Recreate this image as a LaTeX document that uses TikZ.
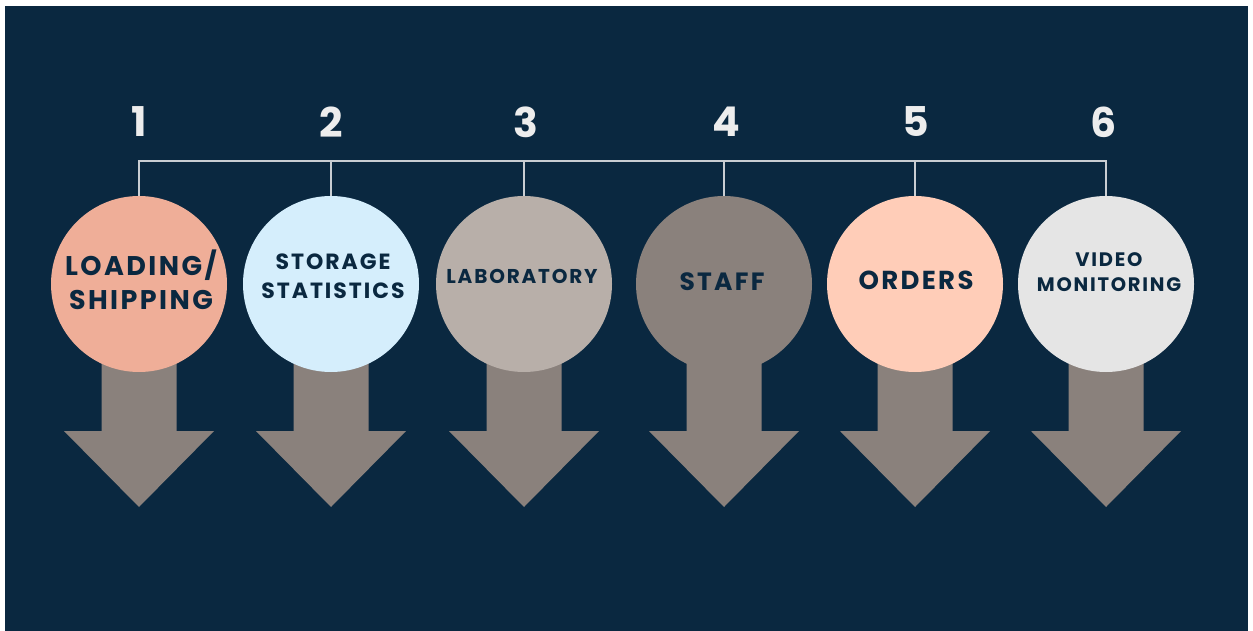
\documentclass[tikz,border=0pt]{standalone}
\usepackage{fontspec}
\newfontfamily\popfont{Poppins}[LetterSpace=9]
\newfontfamily\numfont{Poppins}
\definecolor{navy}{HTML}{0A2840}
\definecolor{arrowgrey}{HTML}{8A817C}
\definecolor{cA}{HTML}{EFAE98}
\definecolor{cB}{HTML}{D5EEFC}
\definecolor{cC}{HTML}{B8AFA9}
\definecolor{cD}{HTML}{8A817C}
\definecolor{cE}{HTML}{FFCDB8}
\definecolor{cF}{HTML}{E5E5E5}
\definecolor{numc}{HTML}{EDEDED}
\definecolor{busc}{HTML}{C9CED3}
\tikzset{
  circ/.style={circle, minimum size=176pt, inner sep=0pt, draw=none},
  lbl/.style={text=navy, align=center, font=\popfont\bfseries\fontsize{27}{34}\selectfont},
  num/.style={text=numc, font=\numfont\bfseries\fontsize{41}{41}\selectfont},
  bus/.style={draw=busc, line width=2.5pt},
  arr/.style={fill=arrowgrey}
}
\begin{document}
\begin{tikzpicture}[x=1pt, y=-1pt]
\fill[white] (0,0) rectangle (1253,631);
\fill[navy] (5,6) rectangle (1248,631);
\useasboundingbox (0,0) rectangle (1253,631);
\foreach \x in {139,331,524,724,915,1106}
  \fill[arr] (\x-37.5,330) -- (\x+37.5,330) -- (\x+37.5,431) -- (\x+75,431) -- (\x,507) -- (\x-75,431) -- (\x-37.5,431) -- cycle;
\coordinate (bar) at (0,161);
\node[circ, fill=cA] (c1) at (139,284) {};
\node[circ, fill=cB] (c2) at (331,284) {};
\node[circ, fill=cC] (c3) at (524,284) {};
\node[circ, fill=cD] (c4) at (724,284) {};
\node[circ, fill=cE] (c5) at (915,284) {};
\node[circ, fill=cF] (c6) at (1106,284) {};
\draw[bus] (c1.north) -- (c1.north |- bar) -| (c6.north);
\draw[bus] (c2.north) -- (c2.north |- bar);
\draw[bus] (c3.north) -- (c3.north |- bar);
\draw[bus] (c4.north) -- (c4.north |- bar);
\draw[bus] (c5.north) -- (c5.north |- bar);
\node[num] (n1) at (139,122) {1};
\node[num] (n2) at (331,122) {2};
\node[num] (n3) at (526,122) {3};
\node[num] (n4) at (726,122) {4};
\node[num] (n5) at (916,122) {5};
\node[num] (n6) at (1104,122) {6};
\node[lbl] (t1) at (141,280) {LOADING/\\SHIPPING};
\node[lbl, font=\popfont\bfseries\fontsize{22}{29}\selectfont] (t2) at (333,276) {STORAGE\\STATISTICS};
\node[lbl, font=\popfont\bfseries\fontsize{20}{24}\selectfont] (t3) at (522,276) {LABORATORY};
\node[lbl, font=\popfont\bfseries\fontsize{25}{30}\selectfont] (t4) at (722,282) {STAFF};
\node[lbl, font=\popfont\bfseries\fontsize{26}{30}\selectfont] (t5) at (916,280) {ORDERS};
\node[lbl, font=\popfont\bfseries\fontsize{19.5}{25}\selectfont] (t6) at (1109,272) {VIDEO\\MONITORING};
\end{tikzpicture}
\end{document}
